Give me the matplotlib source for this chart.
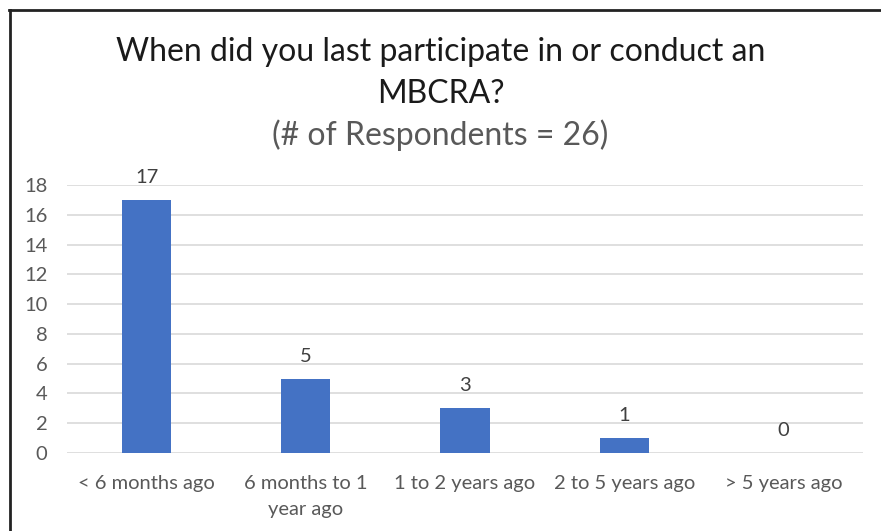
import matplotlib.pyplot as plt
from matplotlib.lines import Line2D

categories = ["< 6 months ago", "6 months to 1\nyear ago", "1 to 2 years ago",
              "2 to 5 years ago", "> 5 years ago"]
counts = [17, 5, 3, 1, 0]
y_ticks = [0, 2, 4, 6, 8, 10, 12, 14, 16, 18]

plt.rcParams['font.family'] = ['Lato', 'DejaVu Sans']

W, H = 881, 531
fig = plt.figure(figsize=(W / 100, H / 100), dpi=100)
ax = fig.add_axes([67 / W, 1 - 453 / H, (863 - 67) / W, (453 - 185) / H])

x = list(range(len(categories)))
bars = ax.bar(x, counts, width=0.31, color="#4472C4", zorder=3)
for rect, v in zip(bars, counts):
    ax.annotate(str(v), (rect.get_x() + rect.get_width() / 2, v),
                xytext=(0, 10), textcoords="offset points",
                ha="center", va="bottom", fontsize=14.5, color="#404040")

ax.set_xlim(-0.5, len(categories) - 0.5)
ax.set_ylim(0, 18)
ax.set_yticks(y_ticks)
ax.set_xticks(x)
ax.set_xticklabels(categories, fontsize=14.5, color="#595959", linespacing=1.65)
ax.tick_params(axis="y", labelsize=14.5, labelcolor="#595959", length=0, pad=14)
ax.tick_params(axis="x", length=0, pad=16)
ax.yaxis.grid(True, color="#d9d9d9", linewidth=1.2, zorder=0)
ax.set_axisbelow(True)
for s in ax.spines.values():
    s.set_visible(False)

fig.text(0.5, 1 - 52 / H, "When did you last participate in or conduct an",
         ha="center", va="center", fontsize=23, color="#1a1a1a")
fig.text(0.5, 1 - 94 / H, "MBCRA?", ha="center", va="center",
         fontsize=23, color="#1a1a1a")
fig.text(0.5, 1 - 135 / H, "(# of Respondents = 26)", ha="center",
         va="center", fontsize=23, color="#595959")

# outer frame (top and left edges)
fig.add_artist(Line2D([9 / W, 1], [1 - 9.5 / H, 1 - 9.5 / H],
                      transform=fig.transFigure, color="#222222", linewidth=2))
fig.add_artist(Line2D([10 / W, 10 / W], [0, 1 - 9.5 / H],
                      transform=fig.transFigure, color="#222222", linewidth=2))

fig.savefig("out.png", dpi=100)
